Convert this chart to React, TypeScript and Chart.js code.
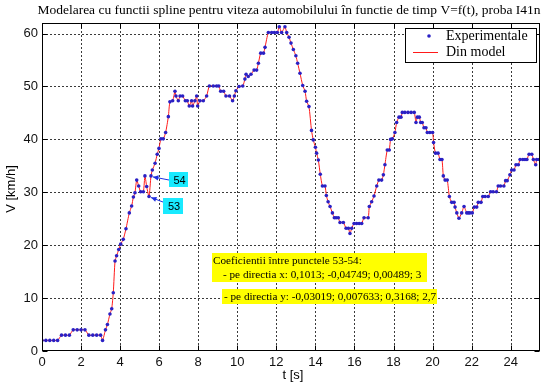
import React, { useEffect, useRef } from "react";
import { Chart, registerables } from "chart.js";

Chart.register(...registerables);

const TITLE = "Modelarea cu functii spline pentru viteza automobilului în functie de timp V=f(t), proba I41n";
const X_LABEL = "t [s]";
const Y_LABEL = "V [km/h]";
const LEGEND_LABELS = ["Experimentale", "Din model"];
const NOTE_LINES = [
  "Coeficientii între punctele 53-54:",
  "- pe directia x: 0,1013; -0,04749; 0,00489; 3",
  "- pe directia y: -0,03019; 0,007633; 0,3168; 2,7",
];
const POINT_TAGS = ["54", "53"];
const TAG_TIMES = [5.58, 5.48]; // t of the annotated points 54 and 53

const tValues = [
  0.0, 0.2, 0.4, 0.6, 0.8, 1.0, 1.2, 1.4, 1.6, 1.8, 2.0, 2.2, 2.4, 2.6, 2.8, 3.0, 3.1,
  3.25, 3.35, 3.48, 3.57, 3.65, 3.74, 3.82, 3.93, 4.03, 4.16, 4.3, 4.47, 4.59, 4.68, 4.76,
  4.85, 4.95, 5.05, 5.19, 5.27, 5.36, 5.48, 5.58, 5.65, 5.79, 5.9, 5.99, 6.09, 6.21, 6.33,
  6.47, 6.55, 6.69, 6.81, 6.86, 6.98, 7.07, 7.2, 7.34, 7.44, 7.54, 7.66, 7.71, 7.83, 7.92,
  7.97, 8.09, 8.26, 8.43, 8.57, 8.77, 8.94, 9.05, 9.15, 9.3, 9.42, 9.6, 9.76, 9.85, 9.93,
  10.09, 10.28, 10.39, 10.45, 10.56, 10.7, 10.86, 10.99, 11.08, 11.2, 11.34, 11.42, 11.59,
  11.76, 11.9, 12.05, 12.15, 12.27, 12.44, 12.53, 12.65, 12.75, 12.87, 13.0, 13.09, 13.21,
  13.35, 13.47, 13.55, 13.67, 13.8, 13.89, 14.0, 14.06, 14.15, 14.25, 14.36, 14.49, 14.56,
  14.65, 14.75, 14.87, 14.97, 15.06, 15.17, 15.26, 15.43, 15.57, 15.69, 15.77, 15.86, 15.98,
  16.11, 16.24, 16.37, 16.49, 16.7, 16.76, 16.88, 17.0, 17.14, 17.25, 17.39, 17.48, 17.56,
  17.68, 17.78, 17.85, 17.94, 18.07, 18.16, 18.28, 18.38, 18.45, 18.58, 18.74, 18.9, 19.06,
  19.15, 19.22, 19.32, 19.39, 19.47, 19.56, 19.66, 19.73, 19.86, 20.0, 20.05, 20.15, 20.28,
  20.38, 20.48, 20.55, 20.64, 20.75, 20.86, 20.98, 21.1, 21.15, 21.24, 21.35, 21.49, 21.61,
  21.75, 21.83, 21.91, 22.03, 22.14, 22.26, 22.34, 22.48, 22.57, 22.69, 22.85, 22.97, 23.1,
  23.27, 23.36, 23.48, 23.65, 23.74, 23.82, 23.96, 24.05, 24.17, 24.27, 24.39, 24.48, 24.62,
  24.73, 24.83, 24.94, 25.08, 25.16, 25.28, 25.33, 25.46,
];

const vValues = [
  2, 2, 2, 2, 2, 3, 3, 3, 4, 4, 4, 4, 3, 3, 3, 3, 2,
  4, 5, 7, 8, 11, 17, 18, 19.2, 20.2, 21.1, 23.1, 26.1, 27.4, 29.1, 29.9,
  32.3, 31.2, 30.1, 30.1, 33.1, 31.1, 29.2, 33.1, 34.2, 35.5, 37.2, 38.3, 40.1, 40.1, 41.3,
  44.3, 47.1, 47.3, 49.1, 48.2, 47.3, 48.2, 48.2, 47.3, 47.3, 46.3, 47.3, 46.3, 47.3, 48.2,
  46.3, 47.3, 47.3, 48.2, 50.1, 50.1, 50.1, 50.1, 49.1, 49.1, 48.2, 48.2, 47.3, 48.2, 49.2,
  50, 50.1, 51.4, 52.3, 51.9, 52.3, 53.1, 53.1, 54.4, 56.3, 56.3, 57.4, 60.2,
  60.2, 60.2, 60.2, 61.3, 60.2, 61.3, 60.2, 59.3, 58.2, 57, 55.8, 54.4, 52.5,
  50.2, 49.1, 47.2, 46.2, 41.7, 39.9, 38.5, 37.4, 36.1, 33.4, 31.2, 31.2, 29.4,
  28.2, 27.3, 26.1, 25.2, 25.2, 25.2, 24.3, 24.3, 23.2, 23.2, 22.2, 23.2, 24.1,
  24.1, 24.1, 24.1, 25.2, 25.2, 27.3, 28.2, 29.3, 31.2, 32.3, 32.3, 33.3, 35.2,
  38, 38, 40, 40.1, 41.3, 43.2, 44.2, 44.2, 45.1, 45.1, 45.1, 45.1, 45.1,
  43.2, 44.2, 44.2, 43.2, 43.2, 42.2, 42.2, 41.3, 41.3, 41.3, 39.4, 37.4, 37.4,
  36.2, 36.2, 33.1, 32.3, 32.3, 29.2, 28.1, 28.1, 27.2, 26.1, 25.1, 26.1, 27.3,
  26.1, 26.1, 26.1, 26.1, 27.2, 27.2, 28.1, 28.1, 29.2, 29.2, 29.2, 30.1, 30.1,
  30.1, 31.2, 31.2, 31.2, 32.2, 32.2, 33.3, 34.2, 34.2, 35.2, 35.2, 36.2, 36.2,
  36.2, 36.2, 37.2, 37.2, 36.2, 35.2, 36.2, 36.2,
];

const X_MIN = 0;
const X_MAX = 25.5;
const X_STEP = 2;
const Y_MIN = 0;
const Y_MAX = 62;
const Y_STEP = 10;

const SERIF = "'Liberation Serif', 'Times New Roman', serif";
const SANS = "'Liberation Sans', Arial, sans-serif";

function stepTicks(min: number, max: number, step: number) {
  const out: { value: number }[] = [];
  for (let k = Math.ceil(min / step); k * step <= max + 1e-9; k++) out.push({ value: k * step });
  return out;
}

const overlay = {
  id: "matlabOverlay",
  beforeDatasetsDraw(chart: any) {
    const { ctx, chartArea: a, scales } = chart;
    const xs = scales.x;
    const ys = scales.y;
    ctx.save();
    ctx.strokeStyle = "#3a3a3a";
    ctx.lineWidth = 1;
    ctx.setLineDash([2, 2]);
    xs.ticks.forEach((t: any) => {
      if (t.value <= X_MIN || t.value >= X_MAX) return;
      const px = Math.round(xs.getPixelForValue(t.value)) + 0.5;
      ctx.beginPath();
      ctx.moveTo(px, a.top);
      ctx.lineTo(px, a.bottom);
      ctx.stroke();
    });
    ys.ticks.forEach((t: any) => {
      if (t.value <= Y_MIN || t.value >= Y_MAX) return;
      const py = Math.round(ys.getPixelForValue(t.value)) + 0.5;
      ctx.beginPath();
      ctx.moveTo(a.left, py);
      ctx.lineTo(a.right, py);
      ctx.stroke();
    });
    ctx.restore();
  },
  afterDatasetsDraw(chart: any) {
    const { ctx, chartArea: a, scales } = chart;
    const xs = scales.x;
    const ys = scales.y;
    ctx.save();
    ctx.setLineDash([]);
    ctx.strokeStyle = "#000";
    ctx.lineWidth = 1;
    const L = Math.round(a.left) + 0.5;
    const R = Math.round(a.right) - 0.5;
    const T = Math.round(a.top) + 0.5;
    const B = Math.round(a.bottom) - 0.5;
    ctx.strokeRect(L, T, R - L, B - T);
    const tl = 5;
    xs.ticks.forEach((t: any) => {
      const px = Math.round(xs.getPixelForValue(t.value)) + 0.5;
      ctx.beginPath();
      ctx.moveTo(px, B);
      ctx.lineTo(px, B - tl);
      ctx.moveTo(px, T);
      ctx.lineTo(px, T + tl);
      ctx.stroke();
    });
    ys.ticks.forEach((t: any) => {
      const py = Math.round(ys.getPixelForValue(t.value)) + 0.5;
      ctx.beginPath();
      ctx.moveTo(L, py);
      ctx.lineTo(L + tl, py);
      ctx.moveTo(R, py);
      ctx.lineTo(R - tl, py);
      ctx.stroke();
    });

    // cyan tags with arrows
    const tagBoxes = [
      { dx: 18, dy: -4, w: 19, h: 15, ay: 8 },
      { dx: 14, dy: 1, w: 20, h: 16, ay: 4 },
    ];
    TAG_TIMES.forEach((tt, i) => {
      const idx = tValues.indexOf(tt);
      const px = xs.getPixelForValue(tValues[idx]);
      const py = ys.getPixelForValue(vValues[idx]);
      const b = tagBoxes[i];
      const bx = Math.round(px + b.dx);
      const by = Math.round(py + b.dy);
      const sx = bx;
      const sy = by + b.ay;
      const ex = px + 2;
      const ey = py + 1;
      ctx.strokeStyle = "#1f2fe0";
      ctx.fillStyle = "#1f2fe0";
      ctx.lineWidth = 1;
      ctx.beginPath();
      ctx.moveTo(sx, sy);
      ctx.lineTo(ex, ey);
      ctx.stroke();
      const ang = Math.atan2(ey - sy, ex - sx);
      ctx.beginPath();
      ctx.moveTo(ex, ey);
      ctx.lineTo(ex - 6 * Math.cos(ang - 0.45), ey - 6 * Math.sin(ang - 0.45));
      ctx.lineTo(ex - 6 * Math.cos(ang + 0.45), ey - 6 * Math.sin(ang + 0.45));
      ctx.closePath();
      ctx.fill();
      ctx.fillStyle = "#19eaff";
      ctx.fillRect(bx, by, b.w, b.h);
      ctx.fillStyle = "#000";
      ctx.font = `11px ${SANS}`;
      ctx.textAlign = "center";
      ctx.textBaseline = "middle";
      ctx.fillText(POINT_TAGS[i], bx + b.w / 2 + 1, by + b.h / 2 + 1);
    });

    // yellow coefficient notes
    ctx.font = `11.2px ${SERIF}`;
    ctx.textAlign = "left";
    ctx.textBaseline = "middle";
    ctx.fillStyle = "#ffff00";
    ctx.fillRect(212, 253, 215, 29);
    ctx.fillRect(222, 289, 215, 15);
    ctx.fillStyle = "#000";
    ctx.fillText(NOTE_LINES[0], 213, 261);
    ctx.fillText(NOTE_LINES[1], 223, 275);
    ctx.fillText(NOTE_LINES[2], 224, 297);

    // legend
    const lx = 405, ly = 28, lw = 131, lh = 34;
    ctx.fillStyle = "#fff";
    ctx.fillRect(lx, ly, lw, lh);
    ctx.strokeStyle = "#000";
    ctx.lineWidth = 1;
    ctx.strokeRect(lx + 0.5, ly + 0.5, lw, lh);
    ctx.fillStyle = "#2a20c4";
    ctx.beginPath();
    ctx.arc(429, 36, 1.8, 0, Math.PI * 2);
    ctx.fill();
    ctx.strokeStyle = "#ff1a1a";
    ctx.beginPath();
    ctx.moveTo(413, 52.5);
    ctx.lineTo(438, 52.5);
    ctx.stroke();
    ctx.fillStyle = "#000";
    ctx.font = `14px ${SERIF}`;
    ctx.textAlign = "left";
    ctx.textBaseline = "middle";
    ctx.fillText(LEGEND_LABELS[0], 446, 36);
    ctx.fillText(LEGEND_LABELS[1], 446, 52);

    ctx.restore();
  },
  afterDraw(chart: any) {
    const { ctx, chartArea: a } = chart;
    ctx.save();
    ctx.fillStyle = "#000";
    ctx.font = `13.5px ${SERIF}`;
    ctx.textAlign = "center";
    ctx.textBaseline = "middle";
    ctx.fillText(TITLE, (a.left + a.right) / 2 - 2, 10);
    ctx.font = `13px ${SANS}`;
    ctx.fillText(X_LABEL, (a.left + a.right) / 2 + 2, 375);
    ctx.translate(11, (a.top + a.bottom) / 2 + 2);
    ctx.rotate(-Math.PI / 2);
    ctx.fillText(Y_LABEL, 0, 0);
    ctx.restore();
  },
};

export default function App() {
  const ref = useRef<HTMLCanvasElement | null>(null);
  useEffect(() => {
    const canvas = ref.current;
    if (!canvas) return;
    const points = tValues.map((t, i) => ({ x: t, y: vValues[i] }));
    const chart = new Chart(canvas, {
      type: "scatter",
      data: {
        datasets: [
          {
            label: LEGEND_LABELS[0],
            data: points,
            showLine: false,
            pointRadius: 1.8,
            pointBackgroundColor: "#2a20c4",
            pointBorderWidth: 0,
            pointBorderColor: "#2a20c4",
          },
          {
            label: LEGEND_LABELS[1],
            data: points,
            showLine: true,
            borderColor: "#ff1a1a",
            borderWidth: 1,
            pointRadius: 0,
            tension: 0.2,
          },
        ],
      },
      options: {
        responsive: false,
        animation: false,
        events: [],
        layout: { padding: { top: 23, right: 7, left: 0, bottom: 0 } },
        plugins: {
          legend: { display: false },
          title: { display: false },
          tooltip: { enabled: false },
        },
        scales: {
          x: {
            type: "linear",
            min: X_MIN,
            max: X_MAX,
            grid: { display: false, drawTicks: false },
            border: { display: false },
            ticks: {
              padding: 4,
              color: "#111",
              font: { family: SANS, size: 13 },
              maxRotation: 0,
              autoSkip: false,
              callback: (v: any) => String(Math.round(Number(v))),
            },
            afterBuildTicks(scale: any) {
              scale.ticks = stepTicks(X_MIN, X_MAX, X_STEP);
            },
            afterFit(scale: any) {
              scale.height = 38;
            },
          },
          y: {
            type: "linear",
            min: Y_MIN,
            max: Y_MAX,
            grid: { display: false, drawTicks: false },
            border: { display: false },
            ticks: {
              padding: 4,
              color: "#111",
              font: { family: SANS, size: 13 },
              autoSkip: false,
              callback: (v: any) => String(Math.round(Number(v))),
            },
            afterBuildTicks(scale: any) {
              scale.ticks = stepTicks(Y_MIN, Y_MAX, Y_STEP);
            },
            afterFit(scale: any) {
              scale.width = 42;
            },
          },
        },
      },
      plugins: [overlay],
    });
    return () => chart.destroy();
  }, []);
  return (
    <div style={{ position: "absolute", left: 0, top: 0, width: 547, height: 389, background: "#fff" }}>
      <canvas ref={ref} width={547} height={389} style={{ width: 547, height: 389, display: "block" }} />
    </div>
  );
}
